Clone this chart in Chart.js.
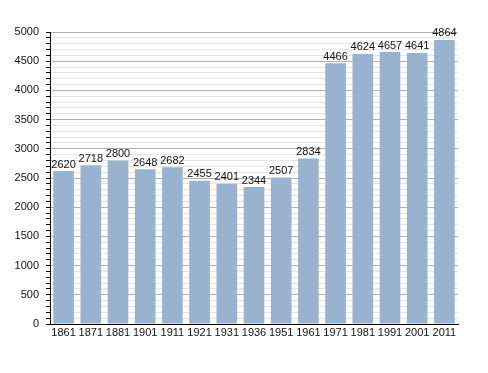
<!DOCTYPE html>
<html>
<head>
<meta charset="utf-8">
<script src="https://cdn.jsdelivr.net/npm/chart.js@4.4.1/dist/chart.umd.min.js"></script>
<style>
  html, body { margin: 0; padding: 0; background: #fff; }
  #wrap { width: 488px; height: 373px; }
</style>
</head>
<body>
<div id="wrap"><canvas id="barChart" width="488" height="373"></canvas></div>
<script>
const years = ["1861", "1871", "1881", "1901", "1911", "1921", "1931", "1936", "1951", "1961", "1971", "1981", "1991", "2001", "2011"];
const population = [2620, 2718, 2800, 2648, 2682, 2455, 2401, 2344, 2507, 2834, 4466, 4624, 4657, 4641, 4864];
const yMax = 5000;
const yStep = 100;

// valeurs au-dessus des barres
const valueLabels = {
  id: "valueLabels",
  afterDatasetsDraw(chart) {
    const ctx = chart.ctx;
    const meta = chart.getDatasetMeta(0);
    ctx.save();
    ctx.font = "11px 'Liberation Sans', Arial, sans-serif";
    ctx.fillStyle = "#111";
    ctx.textAlign = "center";
    ctx.textBaseline = "bottom";
    meta.data.forEach((bar, i) => {
      ctx.fillText(population[i], bar.x, bar.y - 1);
    });
    ctx.restore();
  }
};

const canvas = document.getElementById("barChart");
new Chart(canvas.getContext("2d"), {
  type: "bar",
  data: {
    labels: years,
    datasets: [{
      data: population,
      backgroundColor: "#99b3cf",
      borderWidth: 0,
      barPercentage: 0.76,
      categoryPercentage: 1.0,
    }],
  },
  options: {
    responsive: false,
    animation: false,
    layout: { padding: { top: 32, right: 30, left: 0, bottom: 0 } },
    plugins: { legend: { display: false }, tooltip: { enabled: false } },
    scales: {
      x: {
        grid: { display: false, drawTicks: false },
        border: { color: "#000", width: 1 },
        ticks: {
          color: "#111",
          font: { family: "'Liberation Sans', Arial, sans-serif", size: 11 },
          maxRotation: 0,
          autoSkip: false,
          padding: 2,
        },
        afterFit(scale) { scale.height = 49; },
      },
      y: {
        min: 0,
        max: yMax,
        border: { color: "#000", width: 1 },
        grid: {
          color: (c) => (c.tick && c.tick.value % 500 === 0) ? "#b0b0b0" : "#e4e4e4",
          tickColor: "#000",
          tickLength: 4,
          drawTicks: true,
        },
        ticks: {
          stepSize: yStep,
          autoSkip: false,
          color: "#111",
          padding: 7,
          font: { family: "'Liberation Sans', Arial, sans-serif", size: 11 },
          callback: (v) => (v % 500 === 0 ? v : ""),
        },
        afterFit(scale) { scale.width = 50; },
      },
    },
  },
  plugins: [valueLabels],
});
</script>
</body>
</html>
